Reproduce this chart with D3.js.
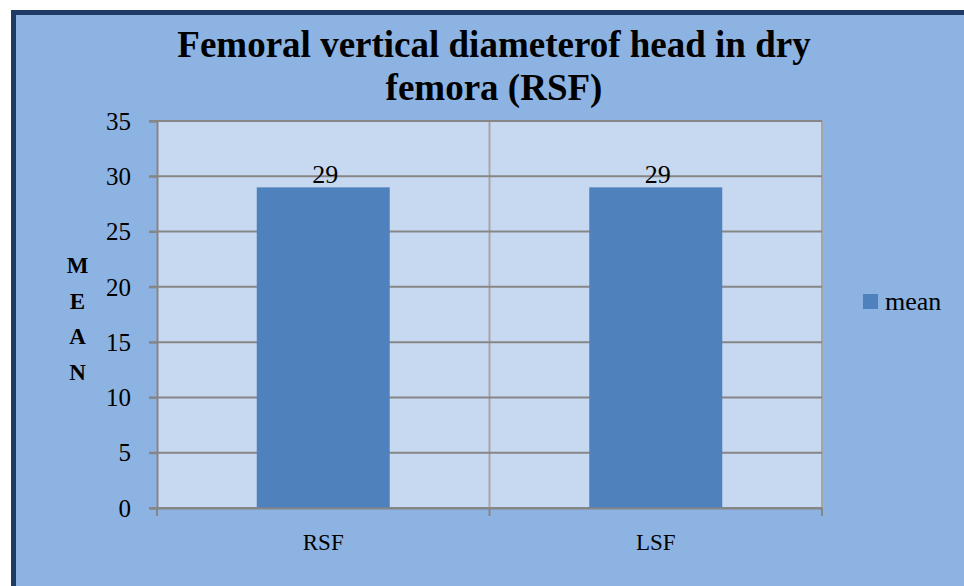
<!DOCTYPE html>
<html>
<head>
<meta charset="utf-8">
<script src="https://cdn.jsdelivr.net/npm/d3@7"></script>
<style>
  body { margin: 0; background: #fff; }
  svg text { font-family: "Liberation Serif", "DejaVu Serif", serif; fill: #000; }
</style>
</head>
<body>
<svg width="964" height="586"></svg>
<script>
const categories = ['RSF', 'LSF'];
const meanValues = [29, 29];
const yTicks = [0, 5, 10, 15, 20, 25, 30, 35];
const seriesName = 'mean';
const titleLines = ['Femoral vertical diameterof head in dry', 'femora (RSF)'];
const axisTitle = ['M', 'E', 'A', 'N'];

const serif = '"Liberation Serif", "DejaVu Serif", serif';
const svg = d3.select('svg');

// chart frame
svg.append('rect')
  .attr('x', 13.5).attr('y', 12.5)
  .attr('width', 964).attr('height', 600)
  .attr('fill', '#8DB3E2')
  .attr('stroke', '#1F3A64')
  .attr('stroke-width', 5);

const plot = { left: 157, right: 822, top: 121, bottom: 508 };

const x = d3.scaleBand()
  .domain(categories)
  .range([plot.left, plot.right]);

const y = d3.scaleLinear()
  .domain([0, 35])
  .range([plot.bottom, plot.top]);

svg.append('rect')
  .attr('x', plot.left).attr('y', plot.top)
  .attr('width', plot.right - plot.left).attr('height', plot.bottom - plot.top)
  .attr('fill', '#C6D9F1');

// vertical gridlines (category dividers + right edge)
svg.append('g')
  .selectAll('line')
  .data([x(categories[1]), plot.right])
  .join('line')
  .attr('x1', d => d).attr('x2', d => d)
  .attr('y1', plot.top).attr('y2', plot.bottom)
  .attr('stroke', '#A6A6A6').attr('stroke-width', 2);

// horizontal gridlines
svg.append('g')
  .selectAll('line')
  .data(yTicks)
  .join('line')
  .attr('x1', plot.left - 8).attr('x2', plot.right)
  .attr('y1', d => y(d)).attr('y2', d => y(d))
  .attr('stroke', '#868686').attr('stroke-width', 2);

// bars
const barW = 133;
svg.append('g')
  .selectAll('rect')
  .data(meanValues)
  .join('rect')
  .attr('x', (d, i) => x(categories[i]) + x.bandwidth() / 2 - barW / 2)
  .attr('y', d => y(d))
  .attr('width', barW)
  .attr('height', d => y(0) - y(d))
  .attr('fill', '#4F81BD');

// data labels
svg.append('g')
  .selectAll('text')
  .data(meanValues)
  .join('text')
  .attr('x', (d, i) => x(categories[i]) + x.bandwidth() / 2 + 2)
  .attr('y', d => y(d) - 4)
  .attr('text-anchor', 'middle')
  .attr('font-size', 26)
  .text(d => d);

// y axis
const yAxis = svg.append('g')
  .attr('transform', `translate(${plot.left},0)`)
  .call(d3.axisLeft(y).tickValues(yTicks).tickSize(8).tickPadding(18));
yAxis.attr('font-family', serif);
yAxis.select('.domain').attr('stroke', '#868686').attr('stroke-width', 2);
yAxis.selectAll('line').attr('stroke', '#868686').attr('stroke-width', 2);
yAxis.selectAll('text')
  .attr('font-size', 25)
  .attr('fill', '#000')
  .attr('dy', '0.33em');

// x axis
const xAxis = svg.append('g')
  .attr('transform', `translate(0,${plot.bottom})`)
  .call(d3.axisBottom(x).tickSize(0).tickPadding(26));
xAxis.attr('font-family', serif);
xAxis.select('.domain').attr('stroke', '#868686').attr('stroke-width', 2);
xAxis.selectAll('text')
  .attr('font-size', 23)
  .attr('fill', '#000');

// x tick marks at band edges
svg.append('g')
  .selectAll('line')
  .data([plot.left, x(categories[1]), plot.right])
  .join('line')
  .attr('x1', d => d).attr('x2', d => d)
  .attr('y1', plot.bottom).attr('y2', plot.bottom + 8)
  .attr('stroke', '#868686').attr('stroke-width', 2);

// title
svg.append('g')
  .selectAll('text')
  .data(titleLines)
  .join('text')
  .attr('x', 494)
  .attr('y', (d, i) => 57 + i * 43)
  .attr('text-anchor', 'middle')
  .attr('font-size', 37)
  .attr('font-weight', 'bold')
  .text(d => d);

// vertical axis title, stacked letters
svg.append('g')
  .selectAll('text')
  .data(axisTitle)
  .join('text')
  .attr('x', 77.5)
  .attr('y', (d, i) => 273 + i * 35.7)
  .attr('text-anchor', 'middle')
  .attr('font-size', 23)
  .attr('font-weight', 'bold')
  .text(d => d);

// legend
const legend = svg.append('g').attr('transform', 'translate(863,294)');
legend.append('rect').attr('width', 15).attr('height', 15).attr('fill', '#4F81BD');
legend.append('text').attr('x', 22).attr('y', 16).attr('font-size', 26).text(seriesName);
</script>
</body>
</html>
